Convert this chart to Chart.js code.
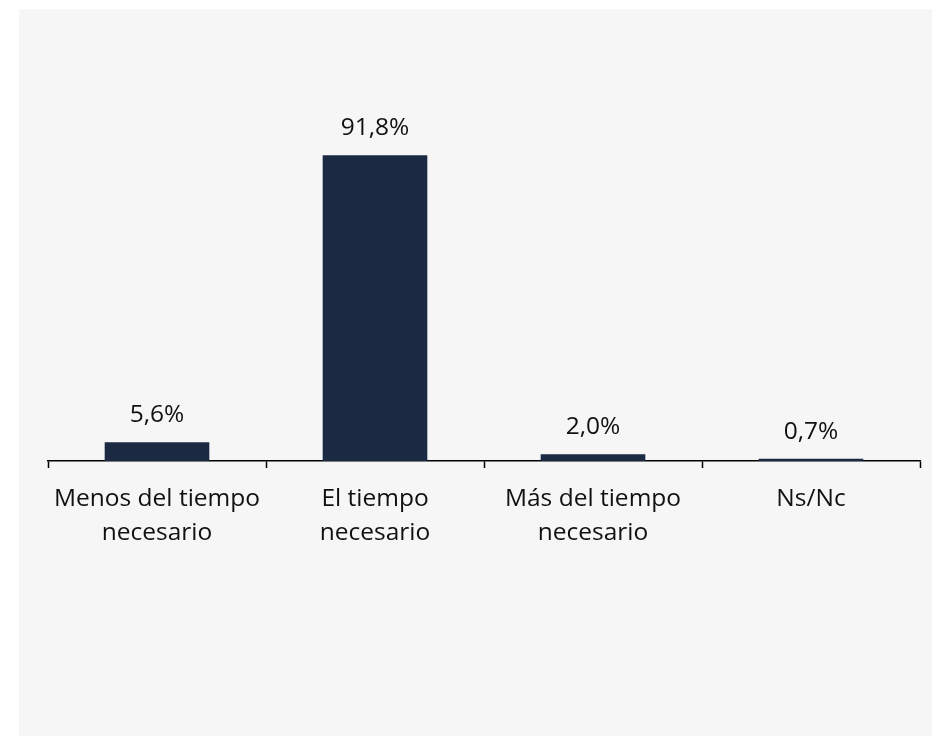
<!DOCTYPE html>
<html>
<head>
<meta charset="utf-8">
<script src="https://cdn.jsdelivr.net/npm/chart.js@4.4.1/dist/chart.umd.min.js"></script>
<style>
  html, body { margin: 0; padding: 0; background: #ffffff; }
  #panel {
    position: absolute;
    left: 19px; top: 9px;
    width: 913px; height: 727px;
    background: #f6f6f6;
  }
  #tiempoChart { display: block; }
</style>
</head>
<body>
<div id="panel"><canvas id="tiempoChart" width="913" height="727"></canvas></div>
<script>
const categories = [
    ['Menos del tiempo', 'necesario'],
    ['El tiempo', 'necesario'],
    ['Más del tiempo', 'necesario'],
    'Ns/Nc'
];
const percentages = [5.6, 91.8, 2.0, 0.7];
const yMin = 0;
const yMax = 100;

const FONT = '"Open Sans", sans-serif';
const FONT_SIZE = 24.5;
const TEXT_COLOR = '#111111';

// Writes "91,8%" style labels above every bar
const valueLabels = {
    id: 'valueLabels',
    afterDatasetsDraw(chart) {
        const { ctx } = chart;
        const meta = chart.getDatasetMeta(0);
        ctx.save();
        ctx.font = FONT_SIZE + 'px ' + FONT;
        ctx.fillStyle = TEXT_COLOR;
        ctx.textAlign = 'center';
        ctx.textBaseline = 'middle';
        meta.data.forEach((bar, i) => {
            const v = chart.data.datasets[0].data[i];
            const txt = v.toFixed(1).replace('.', ',') + '%';
            ctx.fillText(txt, bar.x, bar.y - 27);
        });
        ctx.restore();
    }
};

new Chart(document.getElementById('tiempoChart'), {
    type: 'bar',
    data: {
        labels: categories,
        datasets: [{
            data: percentages,
            backgroundColor: '#1b2942',
            borderWidth: 0,
            categoryPercentage: 1,
            barPercentage: 0.48
        }]
    },
    options: {
        responsive: false,
        animation: false,
        layout: {
            padding: { top: 119, left: 29, right: 12, bottom: 0 }
        },
        plugins: {
            legend: { display: false },
            tooltip: { enabled: false }
        },
        scales: {
            x: {
                afterFit(scale) { scale.height = 275; },
                border: { display: true, color: '#000000', width: 1.5 },
                grid: {
                    offset: true,
                    drawOnChartArea: false,
                    drawTicks: true,
                    tickLength: 7,
                    tickWidth: 1.5,
                    tickColor: '#000000'
                },
                ticks: {
                    color: TEXT_COLOR,
                    padding: 14,
                    maxRotation: 0,
                    autoSkip: false,
                    font: { family: FONT, size: FONT_SIZE, lineHeight: 1.39 }
                }
            },
            y: {
                display: false,
                min: yMin,
                max: yMax
            }
        }
    },
    plugins: [valueLabels]
});
</script>
</body>
</html>
